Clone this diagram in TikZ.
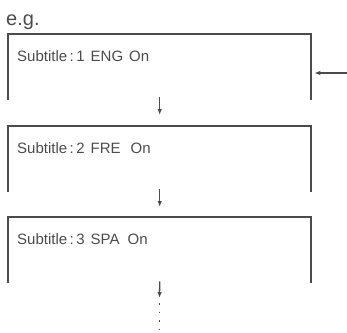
\documentclass[tikz,border=0pt]{standalone}
\usepackage{fontspec}
\setmainfont{Liberation Sans}
\usetikzlibrary{arrows.meta}
\definecolor{inkgray}{RGB}{75,75,75}
\tikzset{
  screen/.style={minimum width=303pt, minimum height=66pt, inner sep=0pt, anchor=north west},
  screentext/.style={anchor=base west, inner sep=0pt, font=\fontsize{15}{17}\selectfont, text=inkgray},
  frame/.style={draw=inkgray, line width=2pt},
}
\begin{document}
\begin{tikzpicture}[x=1pt, y=1pt, >={Latex[length=6pt,width=4.5pt]}]
		\useasboundingbox (0,0) rectangle (347,-332);
		% Heading
		\node[anchor=base west, inner sep=0pt, font=\fontsize{20}{22}\selectfont, text=inkgray] (eg) at (6,-25) {e.g.};
		
		% Screens
		\node[screen] (scr1) at (8,-34) {};
		\node[screen] (scr2) at (8,-126) {};
		\node[screen] (scr3) at (8,-217) {};
		\foreach \i in {1,2,3}
			\draw[frame] (scr\i.south west) -- (scr\i.north west) -- (scr\i.north east) -- (scr\i.south east);
		
		% Screen texts
		\node[screentext] (txt1) at (17,-61) {Subtitle\,:\,1\hspace{6pt}ENG\hspace{6pt}On};
		\node[screentext] (txt2) at (17,-153) {Subtitle\,:\,2\hspace{6pt}FRE\hspace{10pt}On};
		\node[screentext] (txt3) at (17,-244) {Subtitle\,:\,3\hspace{6pt}SPA\hspace{8pt}On};
		
		% Button press from the right
		\coordinate (press) at (347,-73);
		\draw[->, inkgray, line width=1.1pt, shorten >=3pt] (press) -- (press -| scr1.east);
		
		% Steps between screens
		\draw[->, inkgray, line width=1.3pt, shorten <=-3pt, shorten >=11pt] (scr1.south) -- (scr2.north);
		\draw[->, inkgray, line width=1.3pt, shorten <=-3pt, shorten >=10pt] (scr2.south) -- (scr3.north);
		\coordinate (more) at (159.5,-298);
		\draw[->, inkgray, line width=1.3pt, shorten <=-2pt] (scr3.south) -- (more);
		\coordinate (end) at (159.5,-334);
		\draw[inkgray, line width=1.4pt, dash pattern=on 1.5pt off 7pt] ([yshift=-5pt]more) -- (end);
	\end{tikzpicture}
\end{document}
